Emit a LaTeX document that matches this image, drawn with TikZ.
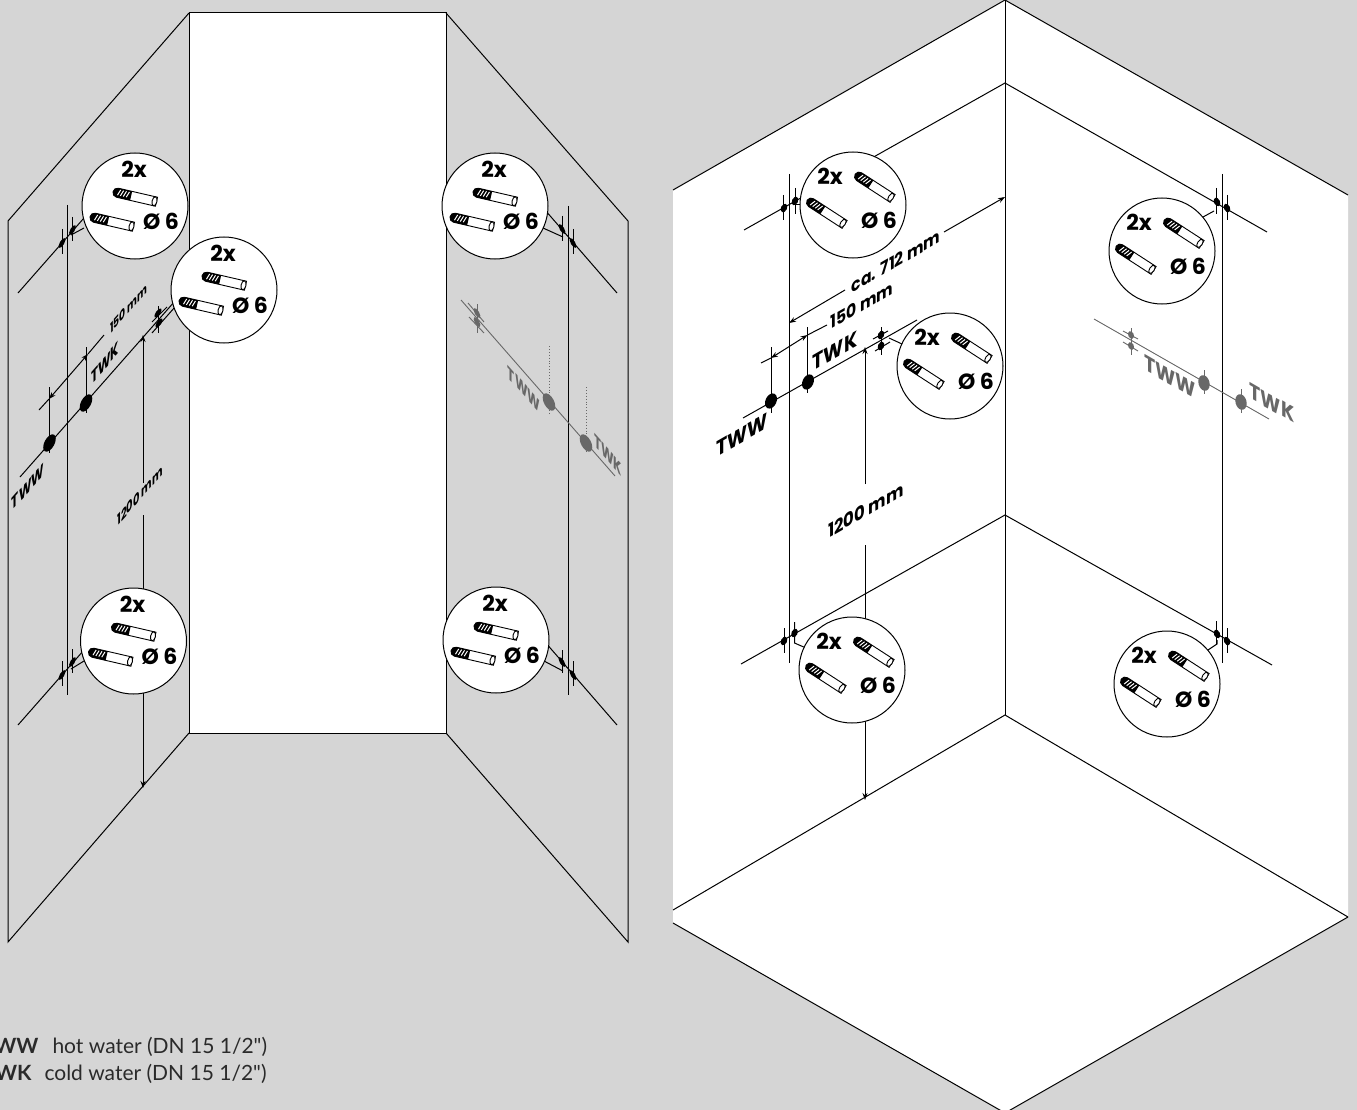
\documentclass[tikz,border=0pt]{standalone}
\usepackage{fontspec}
\usetikzlibrary{arrows.meta}
\newfontfamily\fut{Poppins}
\newfontfamily\av{Lato}
\definecolor{bg}{HTML}{D5D5D5}
\definecolor{ghost}{HTML}{686868}
\definecolor{legendink}{HTML}{2A2A2A}
\newcommand{\fsz}[1]{\fontsize{#1}{#1}\selectfont}
% small dowel: centre x,y, clockwise angle
\newcommand{\dowel}[3]{%
\begin{scope}[shift={(#1,#2)},rotate=-#3]
 \draw[fill=white,line width=.9pt] (-19,-4.6) -- (21,-4.6) -- (21,4.6) -- (-19,4.6) arc[start angle=90,end angle=270,radius=4.6] -- cycle;
 \fill[black] (-5,4.6) -- (-19,4.6) arc[start angle=90,end angle=270,radius=4.6] -- (-5,-4.6) -- cycle;
 \foreach \dx in {-17.5,-14.5,-11.5,-8.5} {\draw[white,line width=1pt] (\dx+1,-3.4) -- (\dx-1,2.4);}
 \draw[fill=white,line width=.9pt] (19,0) ellipse (2.4 and 4.6);
\end{scope}}
% front-view callout
\newcommand{\calloutA}[3]{%
 \node[calloutdisc] (#1) at (#2,#3) {};
 \node[boldlabel] (#1x) at (#2-1,#3-37) {2x};
 \node[boldlabel] (#1d) at (#2+26,#3+15) {Ø 6};
 \dowel{#2+1}{#3-9}{13}
 \dowel{#2-22}{#3+16}{13}}
% corner-view callout
\newcommand{\calloutB}[3]{%
 \node[calloutdisc] (#1) at (#2,#3) {};
 \node[boldlabel] (#1x) at (#2-23,#3-29) {2x};
 \node[boldlabel] (#1d) at (#2+26,#3+15) {Ø 6};
 \dowel{#2+22}{#3-18}{33}
 \dowel{#2-26}{#3+8}{33}}
\newcommand{\elmark}[5][black]{\fill[#1,shift={(#2,#3)},rotate=#4] (0,0) ellipse (#5);}
\tikzset{
 calloutdisc/.style={circle,draw=black,fill=white,line width=1pt,minimum size=106pt,inner sep=0pt},
 boldlabel/.style={font=\fut\bfseries\fsz{22},inner sep=0pt},
 dimarrow/.style={line width=1pt,{Stealth[length=7pt,width=5pt]}-{Stealth[length=7pt,width=5pt]}},
 endarrow/.style={line width=1pt,-{Stealth[length=7pt,width=5pt]}},
 ghostline/.style={line width=.9pt,ghost},
 dimtext/.style={font=\fut\bfseries\fsz{14},inner sep=0pt},
 pipetext/.style={font=\fut\bfseries\fsz{18},inner sep=0pt},
 legend/.style={font=\av\fsz{21},inner sep=0pt,text=legendink},
 up A/.style={cm={0.66,0.75,0,1,(0,0)}},
 down A/.style={cm={0.66,-0.75,0,1,(0,0)}},
 up B/.style={cm={0.866,0.5,0,1,(0,0)}},
 down B/.style={cm={0.866,-0.5,0,1,(0,0)}},
}
\begin{document}
\begin{tikzpicture}[x=1pt,y=-1pt,line width=1pt]
\useasboundingbox (0,0) rectangle (1357,1110);
\clip (0,0) rectangle (1357,1110);
\fill[bg] (0,0) rectangle (1357,1110);
% ---------- left figure: walls
\draw[fill=white] (189,13) rectangle (446,733);
\draw (189,13) -- (8,221) -- (8,942) -- (189,733);
\draw (446,13) -- (628,221) -- (628,942) -- (446,733);
% left wall
\draw (67,205) -- (67,695);
\draw (18,293) -- (84,218);
\draw (18,725) -- (84,650);
\draw (62,229) -- (62,254);
\draw (72.5,217) -- (72.5,241);
\draw (62,661) -- (62,686);
\draw (72.5,649) -- (72.5,673);
\draw (71,235) -- (84,228);
\draw (71,669) -- (84,661);
\elmark{62}{243}{-30}{2.2 and 5.5}
\elmark{72.5}{230}{-30}{2.2 and 5.5}
\elmark{62}{675}{-30}{2.2 and 5.5}
\elmark{72.5}{662}{-30}{2.2 and 5.5}
% pipe line, left wall
\draw (20,477) -- (175,301);
\draw (152,322) -- (167,307);
\draw (152,333) -- (175,307);
\draw (158,306) -- (158,333);
\elmark{158}{313}{-35}{2.2 and 5.5}
\elmark{159}{323}{-35}{2.2 and 5.5}
\elmark{49.5}{443}{-28}{5 and 9.5}
\elmark{86}{403}{-28}{5 and 9.5}
\draw (49.5,387) -- (49.5,453);
\draw (86,347) -- (86,413);
\draw[dimarrow] (49,399) -- (88,354);
\draw (39,410) -- (49,399);
\draw (88,354) -- (104,335);
\node[dimtext,up A] (a150) at (129,308) {150 mm};
\node[pipetext,up A] (atwk) at (105,363) {TWK};
\node[pipetext,up A] (atww) at (28,487) {TWW};
\draw[-{Stealth[length=7pt,width=5pt]}] (143,483) -- (143,335);
\draw (143,515) -- (143,600);
\draw[endarrow] (143,690) -- (143,788);
\node[dimtext,up A,font=\fut\bfseries\fsz{15}] (a1200) at (140,495) {1200 mm};
% right wall of left figure
\draw (568,206) -- (568,695);
\draw (545,210) -- (617,293);
\draw (545,642) -- (617,725);
\draw (562,216) -- (562,241);
\draw (573,229) -- (573,254);
\draw (562,650) -- (562,673);
\draw (573,661) -- (573,686);
\draw (543,228) -- (563,237);
\draw (544,661) -- (563,671);
\elmark{562}{229}{30}{2.2 and 5.5}
\elmark{573}{243}{30}{2.2 and 5.5}
\elmark{562}{662}{30}{2.2 and 5.5}
\elmark{573}{675}{30}{2.2 and 5.5}
% ghosted pipes
\draw[ghostline] (461,300) -- (615,476);
\draw[ghostline] (468,303) -- (484,322);
\draw[ghostline] (469,317) -- (484,333);
\draw[ghostline] (477,304) -- (477,333);
\draw[ghostline,dotted] (549.5,346) -- (549.5,413);
\draw[ghostline,dotted] (586,387) -- (586,453);
\elmark[ghost]{477}{313}{30}{2.2 and 5.5}
\elmark[ghost]{477}{322}{30}{2.2 and 5.5}
\elmark[ghost]{549}{402}{28}{5 and 9.5}
\elmark[ghost]{586}{443}{28}{5 and 9.5}
\node[pipetext,down A,text=ghost] (btww) at (524,389) {TWW};
\node[pipetext,down A,text=ghost] (btwk) at (608,455) {TWK};
% callouts
\calloutA{c1}{135}{206}
\calloutA{c2}{224}{290}
\calloutA{c3}{133.5}{641}
\calloutA{c4}{495}{206}
\calloutA{c5}{496}{640}
% ---------- right figure
\fill[white] (1005,0) -- (1348,195) -- (1348,917) -- (1005,1113) -- (673,923) -- (673,190) -- cycle;
\draw (673,190) -- (1005,0) -- (1348,195);
\draw (673,923) -- (1005,1113) -- (1348,917);
\draw (1005,0) -- (1005,715);
\draw (673,910) -- (1005,715) -- (1348,917);
\draw (744,230) -- (1005,83) -- (1267,232);
\draw (741,664) -- (1005,515) -- (1272,665);
\draw (789,174) -- (789,663);
\draw (1222,174) -- (1222,663);
% marks, corner view
\draw (783.5,195) -- (783.5,220);
\draw (795,188) -- (795,214);
\draw (795,205) -- (803,205);
\draw (784,628) -- (784,653);
\draw (794.5,622) -- (794.5,643) -- (806,648);
\draw (1216.5,188) -- (1216.5,214);
\draw (1227,195) -- (1227,220);
\draw (1203,217) -- (1214,211);
\draw (1216.5,621) -- (1216.5,645);
\draw (1227,628) -- (1227,653);
\draw (1208,650) -- (1217,644) -- (1217,640);
\elmark{784}{208}{-25}{3 and 4.5}
\elmark{795}{201}{-25}{3 and 4.5}
\elmark{784}{641}{-25}{3 and 4.5}
\elmark{794.5}{633}{-25}{3 and 4.5}
\elmark{1217}{202}{25}{3 and 4.5}
\elmark{1227}{208}{25}{3 and 4.5}
\elmark{1217}{634}{25}{3 and 4.5}
\elmark{1227}{641}{25}{3 and 4.5}
% pipe line, corner view
\draw (743,418) -- (917,320);
\draw (873,339) -- (888,331);
\draw (875,351) -- (890,342);
\draw (881,327) -- (881,355);
\draw (889,338) -- (902,344);
\elmark{881}{335}{-25}{3 and 4.5}
\elmark{881}{346}{-25}{3 and 4.5}
\elmark{771}{401}{-25}{5.5 and 8}
\elmark{808}{382}{-25}{5.5 and 8}
\draw (771,347) -- (771,413);
\draw (807.5,327) -- (807.5,393);
\draw[dimarrow] (771,358) -- (807.5,335);
\draw (761,363) -- (771,358);
\draw (807.5,335) -- (827,325);
\node[dimtext,up B,font=\fut\bfseries\fsz{18}] (d150) at (862,305) {150 mm};
\draw[{Stealth[length=7pt,width=5pt]}-] (789,323) -- (845,290);
\draw[-{Stealth[length=7pt,width=5pt]}] (944,232) -- (1005,197);
\node[dimtext,up B,font=\fut\bfseries\fsz{18}] (d712) at (896,261) {ca. 712 mm};
\node[pipetext,up B,font=\fut\bfseries\fsz{22}] (dtwk) at (835,351) {TWK};
\node[pipetext,up B,font=\fut\bfseries\fsz{22}] (dtww) at (742,435) {TWW};
\draw[-{Stealth[length=7pt,width=5pt]}] (865,484) -- (865,347);
\draw (865,545) -- (865,625);
\draw[endarrow] (865,720) -- (865,800);
\node[dimtext,up B,font=\fut\bfseries\fsz{19}] (d1200) at (866,510) {1200 mm};
% ghosted pipes, corner view
\draw[ghostline] (1094,319) -- (1269,419);
\draw[ghostline] (1123,331) -- (1138,339);
\draw[ghostline] (1123,342) -- (1138,351);
\draw[ghostline] (1131,328) -- (1131,355);
\draw[ghostline] (1204,370) -- (1204,394);
\draw[ghostline] (1241,389) -- (1241,413);
\elmark[ghost]{1131}{335}{25}{2.8 and 4}
\elmark[ghost]{1131}{346}{25}{2.8 and 4}
\elmark[ghost]{1204}{383}{15}{5.5 and 8}
\elmark[ghost]{1241}{402}{15}{5.5 and 8}
\node[pipetext,down B,text=ghost,font=\fut\bfseries\fsz{22}] (etww) at (1170,377) {TWW};
\node[pipetext,down B,text=ghost,font=\fut\bfseries\fsz{22}] (etwk) at (1272,403) {TWK};
% callouts, corner view
\calloutB{k1}{853}{205}
\calloutB{k2}{950}{366}
\calloutB{k3}{1162}{251}
\calloutB{k4}{852}{670}
\calloutB{k5}{1167}{684}
% legend
\node[legend,anchor=base east,font=\av\bfseries\fsz{21}] (l1) at (39,1053) {TWW};
\node[legend,anchor=base west] (l2) at (52,1053) {hot water (DN 15 1/2")};
\node[legend,anchor=base east,font=\av\bfseries\fsz{21}] (l3) at (32,1080) {TWK};
\node[legend,anchor=base west] (l4) at (44,1080) {cold water (DN 15 1/2")};
\end{tikzpicture}
\end{document}
